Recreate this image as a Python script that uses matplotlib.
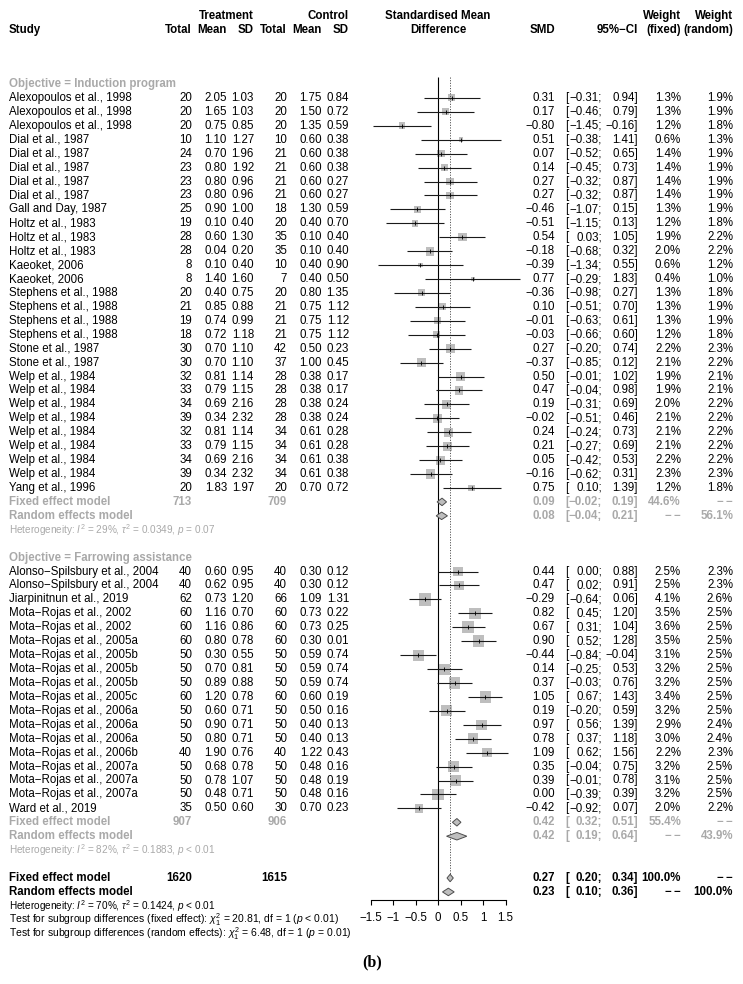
import matplotlib
matplotlib.use("Agg")
import matplotlib.pyplot as plt
import matplotlib.transforms as mtransforms
import numpy as np

plt.rcParams['font.family'] = ['Liberation Sans', 'DejaVu Sans']
plt.rcParams['mathtext.fontset'] = 'custom'
plt.rcParams['mathtext.rm'] = 'Liberation Sans'
plt.rcParams['mathtext.it'] = 'Liberation Sans:italic'
plt.rcParams['mathtext.bf'] = 'Liberation Sans:bold'

# ---- subgroup 1: induction program
study1 = (["Alexopoulos et al., 1998"] * 3 + ["Dial et al., 1987"] * 5 + ["Gall and Day, 1987"]
          + ["Holtz et al., 1983"] * 3 + ["Kaeoket, 2006"] * 2 + ["Stephens et al., 1988"] * 4
          + ["Stone et al., 1987"] * 2 + ["Welp et al., 1984"] * 8 + ["Yang et al., 1996"])
nt1 = [20, 20, 20, 10, 24, 23, 23, 23, 25, 19, 28, 28, 8, 8, 20, 21, 19, 18, 30, 30, 32, 33, 34, 39, 32, 33, 34, 39, 20]
mt1 = [2.05, 1.65, 0.75, 1.10, 0.70, 0.80, 0.80, 0.80, 0.90, 0.10, 0.60, 0.04, 0.10, 1.40, 0.40, 0.85, 0.74, 0.72,
       0.70, 0.70, 0.81, 0.79, 0.69, 0.34, 0.81, 0.79, 0.69, 0.34, 1.83]
sdt1 = [1.03, 1.03, 0.85, 1.27, 1.96, 1.92, 0.96, 0.96, 1.00, 0.40, 1.30, 0.20, 0.40, 1.60, 0.75, 0.88, 0.99, 1.18,
        1.10, 1.10, 1.14, 1.15, 2.16, 2.32, 1.14, 1.15, 2.16, 2.32, 1.97]
nc1 = [20, 20, 20, 10, 21, 21, 21, 21, 18, 20, 35, 35, 10, 7, 20, 21, 21, 21, 42, 37, 28, 28, 28, 28, 34, 34, 34, 34, 20]
mc1 = [1.75, 1.50, 1.35, 0.60, 0.60, 0.60, 0.60, 0.60, 1.30, 0.40, 0.10, 0.10, 0.40, 0.40, 0.80, 0.75, 0.75, 0.75,
       0.50, 1.00, 0.38, 0.38, 0.38, 0.38, 0.61, 0.61, 0.61, 0.61, 0.70]
sdc1 = [0.84, 0.72, 0.59, 0.38, 0.38, 0.38, 0.27, 0.27, 0.59, 0.70, 0.40, 0.40, 0.90, 0.50, 1.35, 1.12, 1.12, 1.12,
        0.23, 0.45, 0.17, 0.17, 0.24, 0.24, 0.28, 0.28, 0.38, 0.38, 0.72]
smd1 = [0.31, 0.17, -0.80, 0.51, 0.07, 0.14, 0.27, 0.27, -0.46, -0.51, 0.54, -0.18, -0.39, 0.77, -0.36, 0.10, -0.01,
        -0.03, 0.27, -0.37, 0.50, 0.47, 0.19, -0.02, 0.24, 0.21, 0.05, -0.16, 0.75]
lo1 = [-0.31, -0.46, -1.45, -0.38, -0.52, -0.45, -0.32, -0.32, -1.07, -1.15, 0.03, -0.68, -1.34, -0.29, -0.98, -0.51,
       -0.63, -0.66, -0.20, -0.85, -0.01, -0.04, -0.31, -0.51, -0.24, -0.27, -0.42, -0.62, 0.10]
hi1 = [0.94, 0.79, -0.16, 1.41, 0.65, 0.73, 0.87, 0.87, 0.15, 0.13, 1.05, 0.32, 0.55, 1.83, 0.27, 0.70, 0.61, 0.60,
       0.74, 0.12, 1.02, 0.98, 0.69, 0.46, 0.73, 0.69, 0.53, 0.31, 1.39]
wf1 = [1.3, 1.3, 1.2, 0.6, 1.4, 1.4, 1.4, 1.4, 1.3, 1.2, 1.9, 2.0, 0.6, 0.4, 1.3, 1.3, 1.3, 1.2, 2.2, 2.1, 1.9, 1.9,
       2.0, 2.1, 2.1, 2.1, 2.2, 2.3, 1.2]
wr1 = [1.9, 1.9, 1.8, 1.3, 1.9, 1.9, 1.9, 1.9, 1.9, 1.8, 2.2, 2.2, 1.2, 1.0, 1.8, 1.9, 1.9, 1.8, 2.3, 2.2, 2.1, 2.1,
       2.2, 2.2, 2.2, 2.2, 2.2, 2.3, 1.8]

# ---- subgroup 2: farrowing assistance
study2 = (["Alonso−Spilsbury et al., 2004"] * 2 + ["Jiarpinitnun et al., 2019"] + ["Mota−Rojas et al., 2002"] * 2
          + ["Mota−Rojas et al., 2005a"] + ["Mota−Rojas et al., 2005b"] * 3 + ["Mota−Rojas et al., 2005c"]
          + ["Mota−Rojas et al., 2006a"] * 3 + ["Mota−Rojas et al., 2006b"] + ["Mota−Rojas et al., 2007a"] * 3
          + ["Ward et al., 2019"])
nt2 = [40, 40, 62, 60, 60, 60, 50, 50, 50, 60, 50, 50, 50, 40, 50, 50, 50, 35]
mt2 = [0.60, 0.62, 0.73, 1.16, 1.16, 0.80, 0.30, 0.70, 0.89, 1.20, 0.60, 0.90, 0.80, 1.90, 0.68, 0.78, 0.48, 0.50]
sdt2 = [0.95, 0.95, 1.20, 0.70, 0.86, 0.78, 0.55, 0.81, 0.88, 0.78, 0.71, 0.71, 0.71, 0.76, 0.78, 1.07, 0.71, 0.60]
nc2 = [40, 40, 66, 60, 60, 60, 50, 50, 50, 60, 50, 50, 50, 40, 50, 50, 50, 30]
mc2 = [0.30, 0.30, 1.09, 0.73, 0.73, 0.30, 0.59, 0.59, 0.59, 0.60, 0.50, 0.40, 0.40, 1.22, 0.48, 0.48, 0.48, 0.70]
sdc2 = [0.12, 0.12, 1.31, 0.22, 0.25, 0.01, 0.74, 0.74, 0.74, 0.19, 0.16, 0.13, 0.13, 0.43, 0.16, 0.19, 0.16, 0.23]
smd2 = [0.44, 0.47, -0.29, 0.82, 0.67, 0.90, -0.44, 0.14, 0.37, 1.05, 0.19, 0.97, 0.78, 1.09, 0.35, 0.39, 0.00, -0.42]
lo2 = [0.00, 0.02, -0.64, 0.45, 0.31, 0.52, -0.84, -0.25, -0.03, 0.67, -0.20, 0.56, 0.37, 0.62, -0.04, -0.01, -0.39, -0.92]
hi2 = [0.88, 0.91, 0.06, 1.20, 1.04, 1.28, -0.04, 0.53, 0.76, 1.43, 0.59, 1.39, 1.18, 1.56, 0.75, 0.78, 0.39, 0.07]
wf2 = [2.5, 2.5, 4.1, 3.5, 3.6, 3.5, 3.1, 3.2, 3.2, 3.4, 3.2, 2.9, 3.0, 2.2, 3.2, 3.1, 3.2, 2.0]
wr2 = [2.3, 2.3, 2.6, 2.5, 2.5, 2.5, 2.5, 2.5, 2.5, 2.5, 2.5, 2.4, 2.4, 2.3, 2.5, 2.5, 2.5, 2.2]

# ---- pooled estimates: (est, lo, hi, weight fixed, weight random)
NA = "−\u2009−"
groups = ["Objective = Induction program", "Objective = Farrowing assistance"]
fixed_n = [(713, 709), (907, 906)]
fixed_sub = [(0.09, -0.02, 0.19, "44.6%", NA), (0.42, 0.32, 0.51, "55.4%", NA)]
random_sub = [(0.08, -0.04, 0.21, NA, "56.1%"), (0.42, 0.19, 0.64, NA, "43.9%")]
het_sub = [r"Heterogeneity: $I^2$ = 29%, $\tau^2$ = 0.0349, $p$ = 0.07",
           r"Heterogeneity: $I^2$ = 82%, $\tau^2$ = 0.1883, $p$ < 0.01"]
overall_n = (1620, 1615)
fixed_all = (0.27, 0.20, 0.34, "100.0%", NA)
random_all = (0.23, 0.10, 0.36, NA, "100.0%")
foot = [r"Heterogeneity: $I^2$ = 70%, $\tau^2$ = 0.1424, $p$ < 0.01",
        r"Test for subgroup differences (fixed effect): $\chi^2_1$ = 20.81, df = 1 ($p$ < 0.01)",
        r"Test for subgroup differences (random effects): $\chi^2_1$ = 6.48, df = 1 ($p$ = 0.01)"]
xticks = [-1.5, -1, -0.5, 0, 0.5, 1, 1.5]

# ---- layout (pixels)
W, H = 743, 984
Y0, RH = 84.0, 13.93        # row 0 position, row height
X0, XS = 438.0, 45.0        # SMD=0 position, px per unit
AXL, AXR = 330, 546
FS, FSS = 8.3, 7.2
GREY = "#A9A9A9"

fig = plt.figure(figsize=(W / 100, H / 100), dpi=100)
ax = fig.add_axes([AXL / W, 0, (AXR - AXL) / W, 1])
ax.set_xlim((AXL - X0) / XS, (AXR - X0) / XS)
ax.set_ylim((H - Y0) / RH, -Y0 / RH)
for s in ["top", "left", "right"]:
    ax.spines[s].set_visible(False)
ax.set_yticks([])
tr = mtransforms.blended_transform_factory(fig.transFigure, ax.transData)


def txt(xpx, row, s, ha="right", **kw):
    kw.setdefault("fontsize", FS)
    ax.text(xpx / W, row, s, ha=ha, va="center", transform=tr, clip_on=False, **kw)


def f2(v):
    return f"{v:.2f}".replace("-", "−")


def stat_cols(row, est, lo, hi, wf, wr, **kw):
    txt(555, row, f2(est), **kw)
    txt(565, row, "[", ha="left", **kw)
    txt(602, row, f2(lo) + ";", **kw)
    txt(638, row, f2(hi) + "]", **kw)
    txt(681, row, wf, **kw)
    txt(733, row, wr, **kw)


def diamond(row, est, lo, hi, ec):
    ax.fill([lo, est, hi, est], [row, row - 0.27, row, row + 0.27], fc="#BEBEBE", ec=ec, lw=0.7, zorder=3)


# header
hb = dict(fontweight="bold")
txt(254, -4.9, "Treatment", **hb)
txt(349, -4.9, "Control", **hb)
txt(9, -3.9, "Study", ha="left", **hb)
for xp, lab in zip([192, 227, 254, 287, 322, 349], ["Total", "Mean", "SD", "Total", "Mean", "SD"]):
    txt(xp, -3.9, lab, **hb)
txt(438, -4.9, "Standardised Mean", ha="center", **hb)
txt(438, -3.9, "Difference", ha="center", **hb)
txt(555, -3.9, "SMD", **hb)
txt(638, -3.9, "95%−CI", **hb)
txt(681, -4.9, "Weight", **hb)
txt(681, -3.9, "(fixed)", **hb)
txt(733, -4.9, "Weight", **hb)
txt(733, -3.9, "(random)", **hb)

data = [(study1, nt1, mt1, sdt1, nc1, mc1, sdc1, smd1, lo1, hi1, wf1, wr1),
        (study2, nt2, mt2, sdt2, nc2, mc2, sdc2, smd2, lo2, hi2, wf2, wr2)]

row = 0
for g, (st, nt, mt, sdt, nc, mc, sdc, smd, lo, hi, wf, wr) in enumerate(data):
    txt(9, row, groups[g], ha="left", color=GREY, fontweight="bold")
    rows = row + 1 + np.arange(len(st))
    for i, r in enumerate(rows):
        txt(9, r, st[i], ha="left")
        txt(192, r, str(nt[i]))
        txt(227, r, f"{mt[i]:.2f}")
        txt(254, r, f"{sdt[i]:.2f}")
        txt(287, r, str(nc[i]))
        txt(322, r, f"{mc[i]:.2f}")
        txt(349, r, f"{sdc[i]:.2f}")
        stat_cols(r, smd[i], lo[i], hi[i], f"{wf[i]:.1f}%", f"{wr[i]:.1f}%")
    side_pt = 12.5 * np.sqrt(np.array(wf) / 4.1) * 0.72
    ax.scatter(smd, rows, marker="s", s=side_pt ** 2, c="#BEBEBE", lw=0, zorder=2)
    ax.hlines(rows, lo, hi, color="#1a1a1a", lw=0.8, zorder=3)
    ax.scatter(smd, rows, marker="|", s=9, c="black", lw=0.6, zorder=4)
    row = rows[-1] + 1
    # subgroup pooled rows
    txt(9, row, "Fixed effect model", ha="left", color=GREY, fontweight="bold")
    txt(192, row, str(fixed_n[g][0]), color=GREY, fontweight="bold")
    txt(287, row, str(fixed_n[g][1]), color=GREY, fontweight="bold")
    stat_cols(row, *fixed_sub[g], color=GREY, fontweight="bold")
    diamond(row, *fixed_sub[g][:3], ec="#4D4D4D")
    txt(9, row + 1, "Random effects model", ha="left", color=GREY, fontweight="bold")
    stat_cols(row + 1, *random_sub[g], color=GREY, fontweight="bold")
    diamond(row + 1, *random_sub[g][:3], ec="#4D4D4D")
    txt(9, row + 2, het_sub[g], ha="left", color=GREY, fontsize=FSS)
    row += 4

# overall
txt(9, row, "Fixed effect model", ha="left", fontweight="bold")
txt(192, row, str(overall_n[0]), fontweight="bold")
txt(287, row, str(overall_n[1]), fontweight="bold")
stat_cols(row, *fixed_all, fontweight="bold")
diamond(row, *fixed_all[:3], ec="#4D4D4D")
txt(9, row + 1, "Random effects model", ha="left", fontweight="bold")
stat_cols(row + 1, *random_all, fontweight="bold")
diamond(row + 1, *random_all[:3], ec="#4D4D4D")
for k, line in enumerate(foot):
    txt(9, row + 2 + k, line, ha="left", fontsize=FSS if k == 0 else 7.5)

# reference lines and axis
axis_row = row + 1.6
ax.vlines(0, -0.5, axis_row, color="black", lw=0.8)
ax.vlines(fixed_all[0], -0.5, row - 0.3, color="#555555", lw=0.7, linestyles=(0, (1.2, 1.5)))
ax.spines["bottom"].set_position(("data", axis_row))
ax.spines["bottom"].set_bounds(xticks[0], xticks[-1])
ax.spines["bottom"].set_linewidth(0.8)
ax.set_xticks(xticks)
ax.set_xticklabels([f"{t:g}".replace("-", "−") for t in xticks], fontsize=FS)
ax.tick_params(axis="x", direction="out", length=3.5, width=0.8, pad=5)

fig.text(372 / W, 1 - 962 / H, "(b)", ha="center", va="center", family="Liberation Serif",
         fontweight="bold", fontsize=11.5)

fig.savefig("out.png", dpi=100)
